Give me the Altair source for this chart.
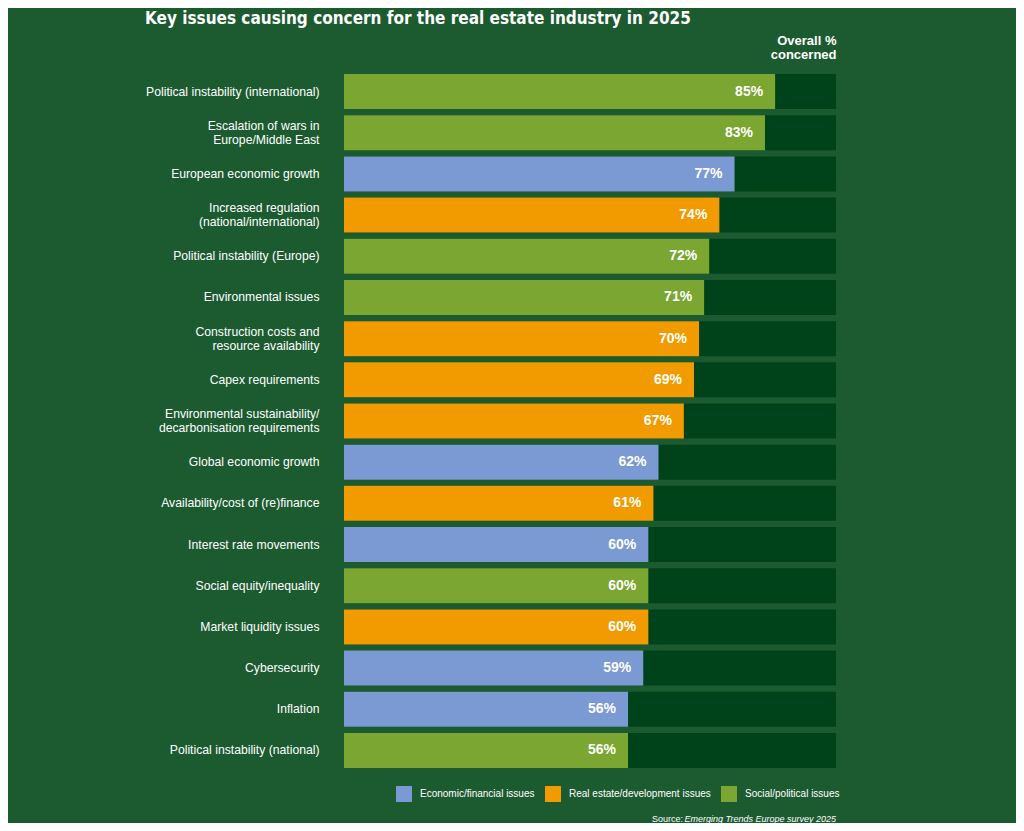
import altair as alt
import pandas as pd

issues = [
    "Political instability (international)",
    "Escalation of wars in\nEurope/Middle East",
    "European economic growth",
    "Increased regulation\n(national/international)",
    "Political instability (Europe)",
    "Environmental issues",
    "Construction costs and\nresource availability",
    "Capex requirements",
    "Environmental sustainability/\ndecarbonisation requirements",
    "Global economic growth",
    "Availability/cost of (re)finance",
    "Interest rate movements",
    "Social equity/inequality",
    "Market liquidity issues",
    "Cybersecurity",
    "Inflation",
    "Political instability (national)",
]
values = [85, 83, 77, 74, 72, 71, 70, 69, 67, 62, 61, 60, 60, 60, 59, 56, 56]
ECO = "Economic/financial issues"
RE = "Real estate/development issues"
SOC = "Social/political issues"
groups = [SOC, SOC, ECO, RE, SOC, SOC, RE, RE, RE, ECO, RE, ECO, SOC, RE, ECO, ECO, SOC]
group_order = [ECO, RE, SOC]
group_colors = ["#7b9ad3", "#f29b00", "#7aa631"]
track_max = 97

df = pd.DataFrame({
    "issue": issues,
    "value": values,
    "group": groups,
    "track": [track_max] * len(issues),
    "label": [f"{v}%" for v in values],
})

BG = "#1c5a30"
TRACK = "#00431a"
FONT = "Liberation Sans"

y_enc = alt.Y(
    "issue:N",
    sort=issues,
    scale=alt.Scale(paddingInner=0.15, paddingOuter=0.075),
    axis=alt.Axis(
        title=None,
        labelExpr="split(datum.label, '\\n')",
        labelColor="white",
        labelFontSize=12.2,
        labelFont=FONT,
        labelLineHeight=14,
        labelPadding=25,
        labelOffset={"condition": {"test": "indexof(datum.value, '\\n') >= 0", "value": -7}, "value": 0},
        ticks=False,
        domain=False,
        grid=False,
        labelLimit=300,
    ),
)

x_scale = alt.Scale(domain=[0, track_max], nice=False, zero=True)

track = alt.Chart(df).mark_bar(color=TRACK).encode(
    y=y_enc,
    x=alt.X(
        "track:Q",
        scale=x_scale,
        axis=alt.Axis(
            orient="top",
            labels=False,
            ticks=False,
            domain=False,
            grid=False,
            title=["Overall %", "concerned"],
            titleAnchor="end",
            titleAlign="right",
            titleColor="white",
            titleFont=FONT,
            titleFontSize=13,
            titleFontWeight="bold",
            titleLineHeight=14,
            titlePadding=10,
        ),
    ),
)

bars = alt.Chart(df).mark_bar().encode(
    y=alt.Y("issue:N", sort=issues),
    x=alt.X("value:Q", scale=x_scale),
    color=alt.Color(
        "group:N",
        scale=alt.Scale(domain=group_order, range=group_colors),
        legend=alt.Legend(
            title=None,
            orient="none",
            direction="horizontal",
            legendX=52,
            legendY=715,
            padding=0,
            symbolType="square",
            symbolSize=256,
            symbolStrokeWidth=0,
            symbolOpacity=1,
            labelColor="white",
            labelFont=FONT,
            labelFontSize=10,
            labelOffset=8,
            columnPadding=10,
            labelLimit=300,
        ),
    ),
)

labels = alt.Chart(df).mark_text(
    align="right", baseline="middle", dx=-12, color="white",
    font=FONT, fontSize=14, fontWeight="bold",
).encode(
    y=alt.Y("issue:N", sort=issues),
    x=alt.X("value:Q", scale=x_scale),
    text="label:N",
)

source_df = pd.DataFrame({"a": ["Source:"], "b": ["Emerging Trends Europe survey 2025"]})
src1 = alt.Chart(source_df).mark_text(
    align="right", baseline="middle", color="white", font=FONT, fontSize=9,
).encode(text="a:N", x=alt.value(339), y=alt.value(748))
src2 = alt.Chart(source_df).mark_text(
    align="right", baseline="middle", color="white", font=FONT, fontSize=9,
    fontStyle="italic",
).encode(text="b:N", x=alt.value(492), y=alt.value(748))

chart = alt.layer(track, bars, labels, src1, src2).properties(
    width=492,
    height=700,
    background=BG,
    padding={"left": 336, "right": 180, "top": 63, "bottom": 52},
    autosize=alt.AutoSizeParams(type="none"),
    title=alt.TitleParams(
        "Key issues causing concern for the real estate industry in 2025",
        anchor="start",
        frame="group",
        dx=-199,
        dy=-2,
        color="white",
        font="DejaVu Sans Condensed, Liberation Sans",
        fontSize=17,
        fontWeight="bold",
        offset=4,
    ),
).configure_view(stroke=None)

chart.save("out.html", embed_options={"renderer": "svg", "actions": False})
